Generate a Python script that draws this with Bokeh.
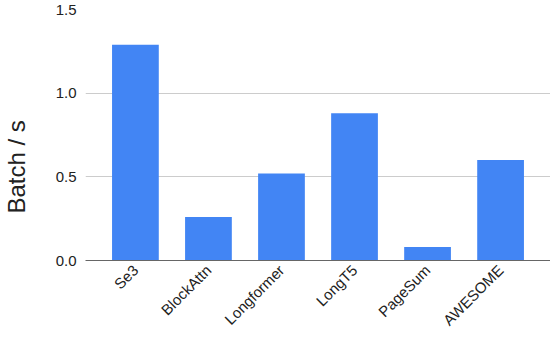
import math
from bokeh.plotting import figure
from bokeh.models import ColumnDataSource, FactorRange, Range1d, Title, FixedTicker, CustomJSTickFormatter
from bokeh.embed import file_html
from bokeh.resources import INLINE

models = ["Se3", "BlockAttn", "Longformer", "LongT5", "PageSum", "AWESOME"]
speed = [1.29, 0.26, 0.52, 0.88, 0.08, 0.60]
y_ticks = [0.0, 0.5, 1.0, 1.5]
y_label = "Batch / s"

FONT = "Liberation Sans"
TXT = "#222222"

src = ColumnDataSource(dict(x=models, top=speed))

p = figure(
    x_range=FactorRange(factors=models, range_padding=0.1835, range_padding_units="absolute"),
    y_range=Range1d(0, 1.5),
    width=550, height=338,
    output_backend="svg", toolbar_location=None,
    min_border_left=82, min_border_right=0, min_border_top=9, min_border_bottom=78,
)
p.vbar(x="x", top="top", width=0.64, source=src, color="#4285F4", line_color=None)

p.outline_line_color = None
p.background_fill_color = "white"
p.border_fill_color = "white"

p.xgrid.grid_line_color = None
p.ygrid.grid_line_color = "#cccccc"
p.ygrid.ticker = FixedTicker(ticks=y_ticks)

p.yaxis.ticker = FixedTicker(ticks=y_ticks)
p.yaxis.formatter = CustomJSTickFormatter(code="return tick.toFixed(1);")
p.yaxis.axis_line_color = None
p.yaxis.major_tick_line_color = None
p.yaxis.minor_tick_line_color = None
p.yaxis.major_tick_out = 0
p.yaxis.minor_tick_out = 0
p.yaxis.major_label_text_font = FONT
p.yaxis.major_label_text_font_size = "15px"
p.yaxis.major_label_text_color = TXT
p.yaxis.major_label_standoff = 9
# blank spacer label so the title sits at the far left
p.yaxis.axis_label = " "
p.yaxis.axis_label_text_font_size = "11px"
p.yaxis.axis_label_standoff = 8

p.xaxis.axis_line_color = "#666666"
p.xaxis.axis_line_width = 1
p.xaxis.major_tick_line_color = None
p.xaxis.minor_tick_line_color = None
p.xaxis.major_tick_out = 0
p.xaxis.minor_tick_out = 0
p.xaxis.major_label_orientation = math.pi / 4
p.xaxis.major_label_text_font = FONT
p.xaxis.major_label_text_font_size = "15px"
p.xaxis.major_label_text_color = TXT
p.xaxis.major_label_text_line_height = 1.0
p.xaxis.major_label_standoff = 7

t = Title(text=y_label, align="left", offset=47, standoff=0,
          text_font=FONT, text_font_size="24px", text_color=TXT,
          text_font_style="normal")
p.add_layout(t, "left")

open("out.html", "w").write(file_html(p, INLINE))
